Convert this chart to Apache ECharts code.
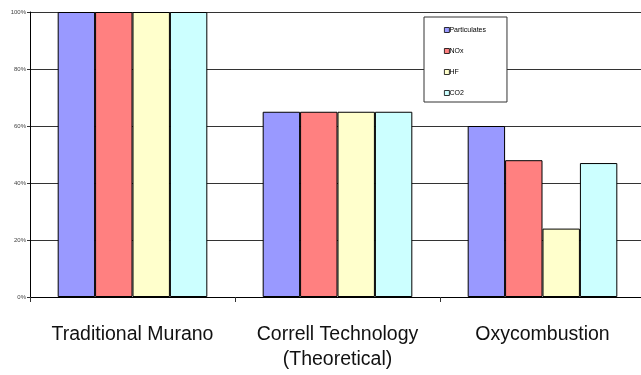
<!DOCTYPE html>
<html>
<head>
<meta charset="utf-8">
<script src="https://cdn.jsdelivr.net/npm/echarts@6/dist/echarts.min.js"></script>
<style>html,body{margin:0;padding:0;background:#fff}#c{width:641px;height:375px}</style>
</head>
<body>
<div id="c"></div>
<script>
const categories = ['Traditional Murano', 'Correll Technology\n(Theoretical)', 'Oxycombustion'];
const particulates = [100, 65, 60];
const nox = [100, 65, 48];
const hf = [100, 65, 24];
const co2 = [100, 65, 47];
const seriesNames = ['Particulates', 'NOx', 'HF', 'CO2'];
const seriesColors = ['#9999FF', '#FF8080', '#FFFFCC', '#CCFFFF'];
const yTicks = [0, 20, 40, 60, 80, 100];

const dataSets = [particulates, nox, hf, co2];
const chart = echarts.init(document.getElementById('c'), null, {renderer: 'canvas'});
chart.setOption({
  animation: false,
  backgroundColor: '#fff',
  grid: {left: 30, width: 615, top: 12, height: 285, outerBoundsMode: 'none', containLabel: false},
  legend: {
    orient: 'vertical',
    left: 424, top: 17,
    padding: [9, 21, 5, 20],
    itemGap: 13,
    itemWidth: 5, itemHeight: 5,
    icon: 'rect',
    backgroundColor: '#fff',
    borderColor: '#333',
    borderWidth: 1,
    textStyle: {fontFamily: 'Liberation Sans, Arial, sans-serif', fontSize: 7, color: '#000', lineHeight: 8, padding: [0,0,0,-5]},
    itemStyle: {borderColor: '#000', borderWidth: 0.8},
    data: seriesNames
  },
  xAxis: {
    type: 'category',
    data: categories,
    boundaryGap: true,
    axisLine: {lineStyle: {color: '#000', width: 1}},
    axisTick: {show: true, length: 5, lineStyle: {color: '#333'}},
    axisLabel: {fontFamily: 'Liberation Sans, Arial, sans-serif', fontSize: 19.5, color: '#111', margin: 25, lineHeight: 25, interval: 0}
  },
  yAxis: {
    type: 'value',
    min: 0, max: 100, interval: 20,
    axisLine: {show: true, lineStyle: {color: '#000', width: 1}},
    axisTick: {show: true, length: 3, lineStyle: {color: '#333'}},
    axisLabel: {formatter: v => yTicks.includes(v) ? v + '%' : '', fontFamily: 'Liberation Sans, Arial, sans-serif', fontSize: 6, color: '#444', margin: 4},
    splitLine: {show: true, lineStyle: {color: '#333', width: 1}}
  },
  series: seriesNames.map((n, i) => ({
    name: n,
    type: 'bar',
    data: dataSets[i],
    barGap: '0%',
    barCategoryGap: '27%',
    itemStyle: {color: seriesColors[i], borderColor: '#000', borderWidth: 1}
  }))
});
</script>
</body>
</html>
